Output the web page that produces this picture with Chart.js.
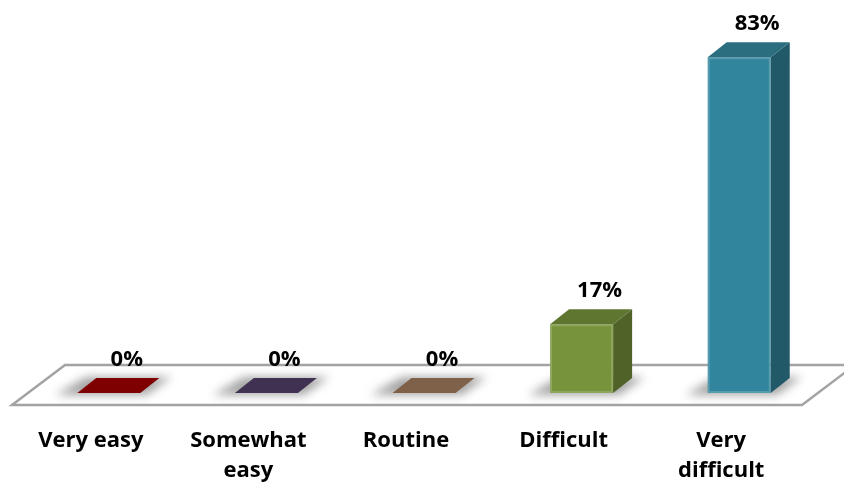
<!DOCTYPE html>
<html lang="en">
<head>
<meta charset="UTF-8">
<meta name="viewport" content="width=device-width, initial-scale=1.0">
<title>Task difficulty</title>
<script src="https://cdn.jsdelivr.net/npm/chart.js"></script>
<style>
    html, body { margin: 0; padding: 0; background: #fff; }
    #wrap { width: 844px; height: 484px; }
</style>
</head>
<body>
<div id="wrap"><canvas id="difficulty-chart"></canvas></div>
<script>
    const categories = [['Very easy'], ['Somewhat', 'easy'], ['Routine'], ['Difficult'], ['Very', 'difficult']];
    const percentages = [0, 0, 0, 17, 83];

    const frontColors = ['#7f0000', '#403152', '#7f6048', '#77933c', '#31859c'];
    const sideColors = ['#560000', '#2b2138', '#574230', '#4f6228', '#215968'];
    const topColors = ['#7f0000', '#403152', '#7f6048', '#5f7630', '#2a6e80'];

    // 3D offset of the back faces
    const DX = 19, DY = 15;
    const FONT = 'bold 22px "Open Sans", sans-serif';

    function poly(ctx, pts, fill) {
        ctx.beginPath();
        ctx.moveTo(pts[0][0], pts[0][1]);
        for (let i = 1; i < pts.length; i++) ctx.lineTo(pts[i][0], pts[i][1]);
        ctx.closePath();
        ctx.fillStyle = fill;
        ctx.fill();
    }

    const box3d = {
        id: 'box3d',
        beforeDatasetsDraw(chart) {
            const { ctx, chartArea: a } = chart;
            const fy = a.bottom + 12, by = a.bottom - 28;
            const fl = a.left - 18, fr = a.right - 16;
            ctx.save();
            // floor
            ctx.beginPath();
            ctx.moveTo(fl, fy);
            ctx.lineTo(fr, fy);
            ctx.lineTo(fr + 53, by);
            ctx.lineTo(fl + 53, by);
            ctx.closePath();
            ctx.fillStyle = '#ffffff';
            ctx.fill();
            ctx.strokeStyle = '#a3a3a3';
            ctx.lineWidth = 2.5;
            ctx.stroke();
            // soft shadows under each bar
            const meta = chart.getDatasetMeta(0);
            ctx.filter = 'blur(5px)';
            meta.data.forEach(bar => {
                const l = bar.x - bar.width / 2, r = bar.x + bar.width / 2;
                poly(ctx, [[l - 22, a.bottom + 2], [r + 6, a.bottom + 2],
                    [r + DX + 12, a.bottom - DY - 1], [l + DX - 10, a.bottom - DY - 1]], 'rgba(90,90,90,0.55)');
            });
            ctx.filter = 'none';
            ctx.restore();
        },
        afterDatasetsDraw(chart) {
            const { ctx } = chart;
            const meta = chart.getDatasetMeta(0);
            ctx.save();
            meta.data.forEach((bar, i) => {
                const l = bar.x - bar.width / 2, r = bar.x + bar.width / 2;
                const t = bar.y, b = bar.base;
                if (percentages[i] > 0) {
                    poly(ctx, [[r, t], [r + DX, t - DY], [r + DX, b - DY], [r, b]], sideColors[i]);
                    // faint highlight along the front edges
                    ctx.strokeStyle = 'rgba(255,255,255,0.18)';
                    ctx.lineWidth = 2;
                    ctx.strokeRect(l + 1, t + 1, bar.width - 2, b - t - 2);
                }
                poly(ctx, [[l, t], [l + DX, t - DY], [r + DX, t - DY], [r, t]], topColors[i]);
            });
            ctx.restore();
        },
        afterDraw(chart) {
            const { ctx, chartArea: a } = chart;
            const meta = chart.getDatasetMeta(0);
            ctx.save();
            ctx.font = FONT;
            ctx.fillStyle = '#000';
            ctx.textAlign = 'center';
            ctx.textBaseline = 'alphabetic';
            meta.data.forEach((bar, i) => {
                ctx.fillText(percentages[i] + '%', bar.x + 18, bar.y - DY - 12);
                categories[i].forEach((line, k) => {
                    ctx.fillText(line, bar.x - 18, a.bottom + 54 + k * 30);
                });
            });
            ctx.restore();
        }
    };

    new Chart(document.getElementById('difficulty-chart'), {
        type: 'bar',
        data: {
            labels: categories,
            datasets: [{
                data: percentages,
                backgroundColor: frontColors,
                borderWidth: 0,
                categoryPercentage: 1,
                barPercentage: 0.4
            }]
        },
        options: {
            responsive: true,
            maintainAspectRatio: false,
            animation: false,
            layout: { padding: { top: 29, bottom: 91, left: 30, right: 26 } },
            plugins: { legend: { display: false }, tooltip: { enabled: false } },
            scales: {
                x: { display: false },
                y: { display: false, min: 0, max: 90 }
            }
        },
        plugins: [box3d]
    });
</script>
</body>
</html>
